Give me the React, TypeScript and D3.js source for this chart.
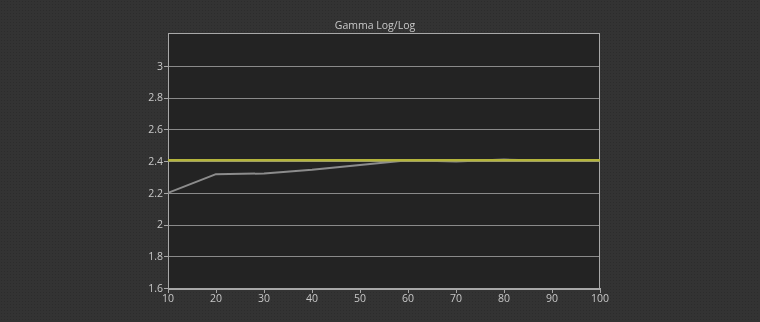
import React from "react";
import * as d3 from "d3";

const xTicks = [10, 20, 30, 40, 50, 60, 70, 80, 90, 100];
const yTicks = [1.6, 1.8, 2, 2.2, 2.4, 2.6, 2.8, 3];
const levels = [10, 20, 30, 40, 50, 60, 70, 80, 90, 100];
const measuredGamma = [2.2, 2.318, 2.322, 2.345, 2.375, 2.405, 2.398, 2.41, 2.403, 2.404];
const targetGamma = [2.405, 2.405];
const targetLevels = [10, 100];

const W = 760;
const H = 322;
const M = { left: 168, right: 600, top: 33, bottom: 288 };

export default function App() {
  const x = d3.scaleLinear().domain([10, 100]).range([M.left, M.right]);
  const y = d3.scaleLinear().domain([1.6, 3.208]).range([M.bottom, M.top]);

  const line = d3
    .line<[number, number]>()
    .x((d) => x(d[0]))
    .y((d) => y(d[1]));

  const measured = line(levels.map((l, i) => [l, measuredGamma[i]] as [number, number]));
  const target = line(targetLevels.map((l, i) => [l, targetGamma[i]] as [number, number]));

  const font = "'Open Sans', 'DejaVu Sans', sans-serif";

  return (
    <div style={{ position: "fixed", left: 0, top: 0 }}>
      <svg width={W} height={H} style={{ display: "block" }}>
        <defs>
          <pattern id="dots" width="3" height="3" patternUnits="userSpaceOnUse">
            <rect width="3" height="3" fill="#333333" />
            <rect x="1" y="1" width="1" height="1" fill="#2c2c2c" />
          </pattern>
        </defs>
        <rect width={W} height={H} fill="url(#dots)" />
        <rect
          x={M.left}
          y={M.top}
          width={M.right - M.left}
          height={M.bottom - M.top}
          fill="#232323"
        />
        {/* horizontal grid */}
        {yTicks.slice(1).map((t) => (
          <line
            key={t}
            x1={M.left}
            x2={M.right}
            y1={Math.round(y(t)) + 0.5}
            y2={Math.round(y(t)) + 0.5}
            stroke="#8a8a8a"
            strokeWidth={1}
          />
        ))}
        {/* frame */}
        <rect
          x={M.left + 0.5}
          y={M.top + 0.5}
          width={M.right - M.left - 1}
          height={M.bottom - M.top}
          fill="none"
          stroke="#a8a8a8"
          strokeWidth={1}
        />
        <line x1={M.left} x2={M.right} y1={M.bottom + 1.5} y2={M.bottom + 1.5} stroke="#a8a8a8" strokeWidth={1} />
        {/* y ticks */}
        {yTicks.map((t) => (
          <g key={t}>
            <line
              x1={M.left - 4}
              x2={M.left}
              y1={Math.round(y(t)) + 0.5}
              y2={Math.round(y(t)) + 0.5}
              stroke="#a8a8a8"
            />
            <text
              x={M.left - 5}
              y={y(t)}
              dy="0.35em"
              textAnchor="end"
              fontFamily={font}
              fontSize={10.5}
              fill="#c8c8c8"
            >
              {d3.format("~g")(t)}
            </text>
          </g>
        ))}
        {/* x ticks */}
        {xTicks.map((t) => (
          <g key={t}>
            <line
              x1={Math.round(x(t)) + 0.5}
              x2={Math.round(x(t)) + 0.5}
              y1={M.bottom}
              y2={M.bottom + 5}
              stroke="#a8a8a8"
            />
            <text
              x={x(t)}
              y={M.bottom + 14}
              textAnchor="middle"
              fontFamily={font}
              fontSize={10.5}
              fill="#c8c8c8"
            >
              {t}
            </text>
          </g>
        ))}
        {/* measured gamma */}
        <path d={measured ?? ""} fill="none" stroke="#8c8c8c" strokeWidth={2} strokeLinejoin="round" />
        {/* target gamma */}
        <path d={target ?? ""} fill="none" stroke="#b4b43c" strokeWidth={2.5} />
        <text
          x={375}
          y={M.top - 4}
          textAnchor="middle"
          fontFamily={font}
          fontSize={10.5}
          fill="#c8c8c8"
        >
          Gamma Log/Log
        </text>
      </svg>
    </div>
  );
}
